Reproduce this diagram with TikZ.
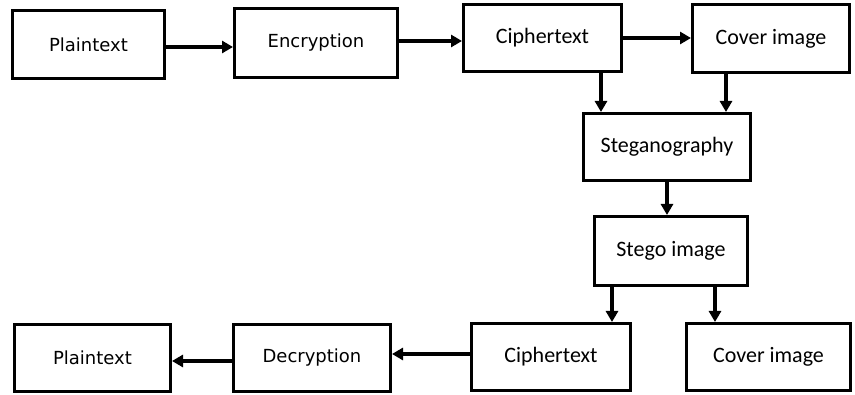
\documentclass[tikz,border=0pt]{standalone}
\usepackage{fontspec}
\setmainfont{Carlito}
\newfontfamily\dejafont{DejaVu Sans}
\usetikzlibrary{arrows.meta}
\begin{document}
\begin{tikzpicture}[x=1pt,y=-1pt,
  blk/.style={draw=black,line width=3pt,fill=white,inner sep=0pt,anchor=center},
  dtxt/.style={font=\dejafont\fontsize{18}{20}\selectfont},
  ctxt/.style={font=\fontsize{22}{24}\selectfont},
  arr/.style={line width=4pt,-{Triangle[length=11pt,width=12pt]}}]
\useasboundingbox (0,0) rectangle (855,395);
\node[blk,dtxt,minimum width=152pt,minimum height=68pt] (pt1) at (88.5,44.5) {Plaintext};
\node[blk,dtxt,minimum width=163pt,minimum height=69pt] (enc) at (316,43) {Encryption};
\node[blk,ctxt,minimum width=158pt,minimum height=67pt] (ct1) at (542.5,38) {Ciphertext};
\node[blk,ctxt,minimum width=157pt,minimum height=68pt] (cv1) at (771,38.5) {Cover image};
\node[blk,ctxt,minimum width=167pt,minimum height=67pt] (stg) at (667,147) {Steganography};
\node[blk,ctxt,minimum width=153pt,minimum height=69pt] (si) at (671,251) {Stego image};
\node[blk,ctxt,minimum width=159pt,minimum height=67pt] (ct2) at (551,357) {Ciphertext};
\node[blk,ctxt,minimum width=164pt,minimum height=67pt] (cv2) at (768.5,357) {Cover image};
\node[blk,dtxt,minimum width=157pt,minimum height=67pt] (dec) at (312,358) {Decryption};
\node[blk,dtxt,minimum width=156pt,minimum height=67pt] (pt2) at (92.5,358) {Plaintext};
\draw[arr] ([yshift=-2.5pt]pt1.east) -- ([yshift=-2.5pt]pt1.east -| enc.west);
\draw[arr] ([yshift=2pt]enc.east) -- ([yshift=2pt]enc.east -| ct1.west);
\draw[arr] (ct1.east) -- (ct1.east -| cv1.west);
\draw[arr] ([xshift=58.5pt]ct1.south) -- ([xshift=58.5pt]ct1.south |- stg.north);
\draw[arr] ([xshift=-45pt]cv1.south) -- ([xshift=-45pt]cv1.south |- stg.north);
\draw[arr] (stg.south) -- (stg.south |- si.north);
\draw[arr] ([xshift=-59pt]si.south) -- ([xshift=-59pt]si.south |- ct2.north);
\draw[arr] ([xshift=44pt]si.south) -- ([xshift=44pt]si.south |- cv2.north);
\draw[arr] ([yshift=3pt]ct2.west) -- ([yshift=3pt]ct2.west -| dec.east);
\draw[arr] ([yshift=-3pt]dec.west) -- ([yshift=-3pt]dec.west -| pt2.east);
\end{tikzpicture}
\end{document}
